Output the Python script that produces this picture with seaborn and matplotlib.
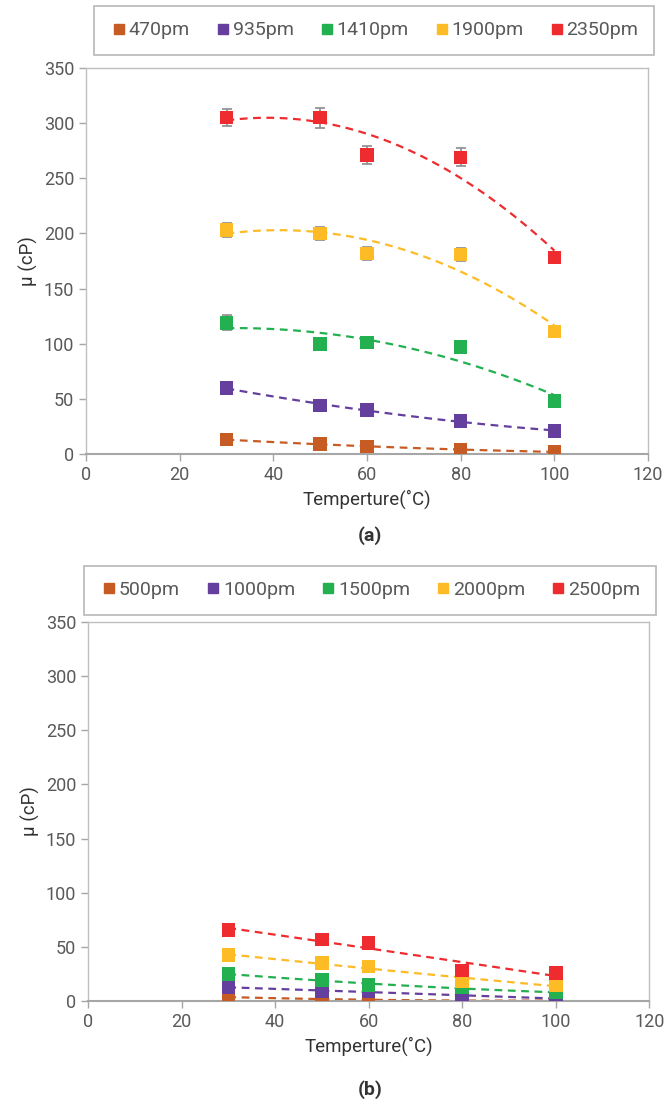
"""
Viscosity vs temperature, two panels
"""

import numpy as np
import pandas as pd
import matplotlib.pyplot as plt
import seaborn as sns
from matplotlib.lines import Line2D

# === Data ===
temps = [30, 50, 60, 80, 100]

labels_a = ["470pm", "935pm", "1410pm", "1900pm", "2350pm"]
mu_470 = [13, 9, 7, 4, 2]
mu_935 = [60, 44, 40, 30, 21]
mu_1410 = [119, 100, 101, 97, 48]
mu_1900 = [203, 200, 182, 181, 111]
mu_2350 = [305, 305, 271, 269, 178]
err_470 = [1, 1, 1, 1, 1]
err_935 = [1, 1, 1, 1, 1]
err_1410 = [7, 5, 4, 3, 1]
err_1900 = [6, 6, 6, 6, 2]
err_2350 = [8, 9, 8, 8, 3]

labels_b = ["500pm", "1000pm", "1500pm", "2000pm", "2500pm"]
mu_500 = [3.6, 2.0, 1.0, 0.5, 0.5]
mu_1000 = [12.6, 9.5, 9.0, 4.6, 2.5]
mu_1500 = [25, 19.4, 14.8, 12.6, 7.7]
mu_2000 = [42.4, 35, 32, 18.5, 14.8]
mu_2500 = [65.5, 57, 53.5, 28, 26]

# === Colors ===
colors = ["#C65B24", "#643F9E", "#23B050", "#FDBB26", "#EE2B2E"]
GREY = "#595959"

sns.set_style("white")
plt.rcParams["font.family"] = ["Roboto", "DejaVu Sans"]


def long_table(series, labels, errs=None):
    rows = []
    for i, (vals, lab) in enumerate(zip(series, labels)):
        for j, (t, v) in enumerate(zip(temps, vals)):
            rows.append({"T": t, "mu": v, "series": lab,
                         "err": errs[i][j] if errs else 0.0})
    return pd.DataFrame(rows)


def draw_panel(ax, df, labels, legend_xy):
    pal = dict(zip(labels, colors))
    # polynomial trendlines (order 2), from the data
    for lab in labels:
        sub = df[df["series"] == lab]
        coef = np.polyfit(sub["T"], sub["mu"], 2)
        xs = np.linspace(30, 100, 120)
        fit = pd.DataFrame({"T": xs, "mu": np.polyval(coef, xs)})
        sns.lineplot(data=fit, x="T", y="mu", ax=ax, color=pal[lab],
                     lw=1.6, dashes=False, linestyle=(0, (3.5, 2.5)), zorder=2)
        if sub["err"].max() > 0:
            ax.errorbar(sub["T"], sub["mu"], yerr=sub["err"], fmt="none",
                        ecolor="#8c8c8c", elinewidth=1.2, capsize=3.5,
                        capthick=1.2, zorder=3)
    sns.scatterplot(data=df, x="T", y="mu", hue="series", palette=pal,
                    marker="s", s=95, linewidth=0, ax=ax, legend=False, zorder=4)

    ax.set_xlim(0, 120)
    ax.set_ylim(0, 350)
    ax.set_xticks(range(0, 121, 20))
    ax.set_yticks(range(0, 351, 50))
    ax.set_xlabel("Temperture(˚C)", fontsize=13.5, color="#333333")
    ax.set_ylabel("μ (cP)", fontsize=13.5, color="#333333")
    for sp in ax.spines.values():
        sp.set_color("#bfbfbf")
        sp.set_linewidth(1.0)
    ax.spines["bottom"].set_color("#a6a6a6")
    ax.spines["bottom"].set_linewidth(1.5)
    ax.tick_params(axis="both", direction="out", length=5, width=1,
                   color="#a6a6a6", labelsize=13, labelcolor=GREY,
                   bottom=True, left=True)

    handles = [Line2D([], [], marker="s", ls="", color=c, markersize=7.5)
               for c in colors]
    leg = ax.legend(handles, labels, loc="center", ncol=5,
                    bbox_to_anchor=legend_xy, bbox_transform=ax.figure.transFigure,
                    fontsize=14, frameon=True, fancybox=False,
                    handletextpad=0.0, columnspacing=1.2, handlelength=1.0,
                    borderpad=0.8)
    leg.get_frame().set_edgecolor("#a6a6a6")
    leg.get_frame().set_linewidth(1.2)
    for t in leg.get_texts():
        t.set_color(GREY)


fig = plt.figure(figsize=(6.64, 11.05), dpi=100)
ax_a = fig.add_axes([0.1295, 0.5891, 0.8465, 0.3494])
ax_b = fig.add_axes([0.1325, 0.0941, 0.8455, 0.3430])

df_a = long_table([mu_470, mu_935, mu_1410, mu_1900, mu_2350], labels_a,
                  [err_470, err_935, err_1410, err_1900, err_2350])
df_b = long_table([mu_500, mu_1000, mu_1500, mu_2000, mu_2500], labels_b)

draw_panel(ax_a, df_a, labels_a, (0.563, 0.9724))
draw_panel(ax_b, df_b, labels_b, (0.557, 0.466))

fig.text(0.557, 1 - 536 / 1105, "(a)", ha="center", va="center",
         fontsize=14, fontweight="bold", color="#333333")
fig.text(0.557, 1 - 1090 / 1105, "(b)", ha="center", va="center",
         fontsize=14, fontweight="bold", color="#333333")

fig.savefig("out.png", dpi=100)
plt.close(fig)
